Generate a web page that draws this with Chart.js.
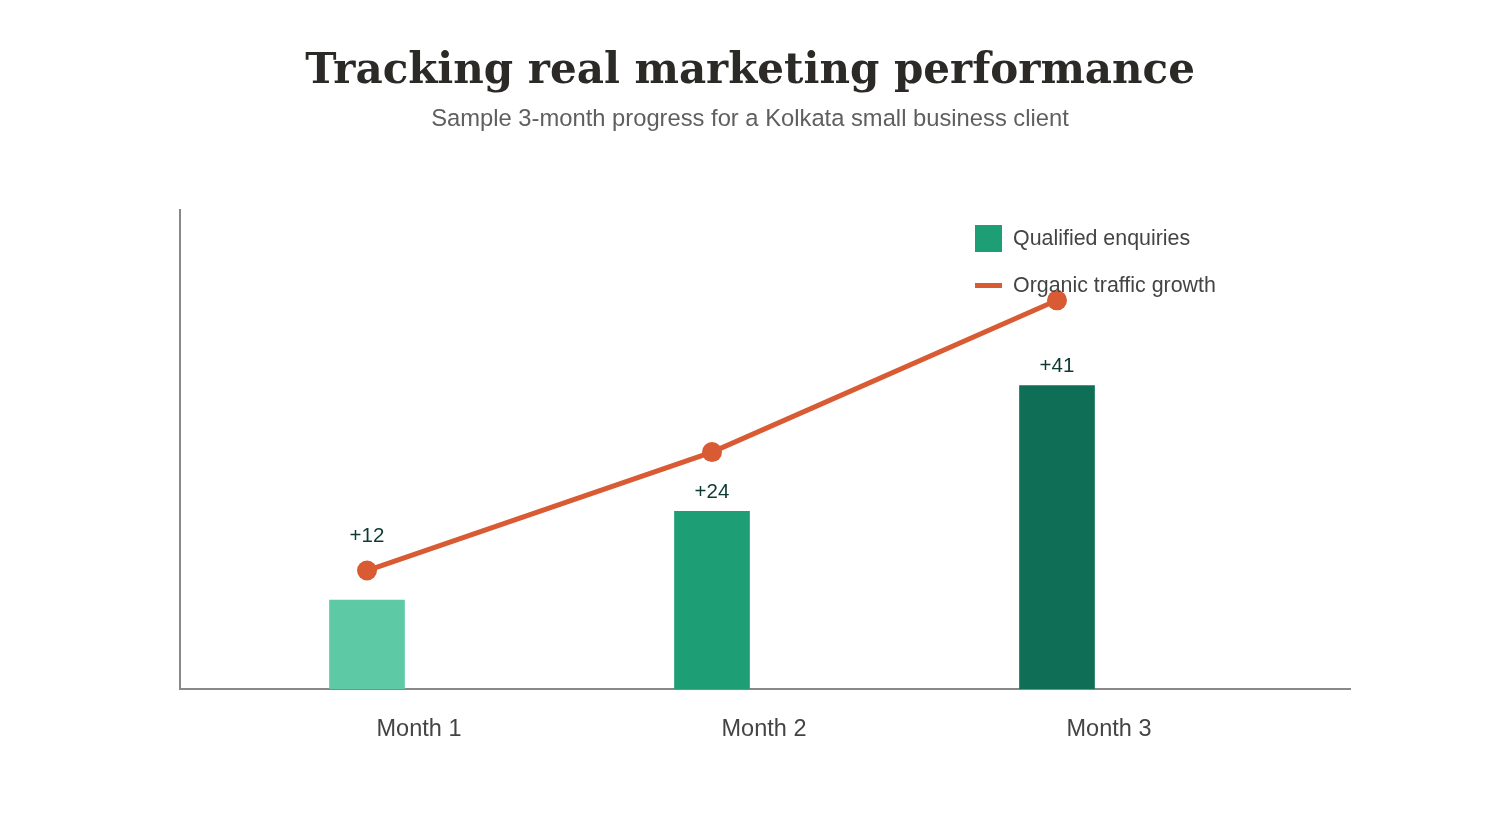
<!DOCTYPE html>
<html>
<head>
<meta charset="utf-8">
<script src="https://cdn.jsdelivr.net/npm/chart.js@4"></script>
<style>
  html, body { margin: 0; padding: 0; background: #ffffff; }
  #wrap { width: 1500px; height: 840px; }
</style>
</head>
<body>
<div id="wrap"><canvas id="c" width="1500" height="840"></canvas></div>
<script>
// ---- data ----
const categories = ["Month 1", "Month 2", "Month 3"];
const categoryPositions = [1, 2, 3];
const enquiries = [12, 24, 41];
const enquiryLabels = ["+12", "+24", "+41"];
const trafficGrowth = [16, 32, 52.5];
const barColors = ["#5dcaa5", "#1d9e75", "#0f6e56"];
const seriesNames = ["Qualified enquiries", "Organic traffic growth"];
const titleText = "Tracking real marketing performance";
const subtitleText = "Sample 3-month progress for a Kolkata small business client";

const ORANGE = "#d85b33";
const SANS = "'Liberation Sans', Arial, sans-serif";

const overlay = {
  id: "overlay",
  afterDatasetsDraw(chart) {
    const ctx = chart.ctx;
    const barMeta = chart.getDatasetMeta(0);
    const lineMeta = chart.getDatasetMeta(1);
    ctx.save();
    // value labels
    ctx.font = "20.5px " + SANS;
    ctx.fillStyle = "#0d3b31";
    ctx.textAlign = "center";
    ctx.textBaseline = "middle";
    barMeta.data.forEach((bar, i) => {
      const pt = lineMeta.data[i];
      let y = bar.y - 19;
      if (pt.y > bar.y - 45) y = pt.y - 34;
      ctx.fillText(enquiryLabels[i], bar.x, y);
    });
    // legend
    ctx.fillStyle = "#1d9e75";
    ctx.fillRect(975, 225, 27, 27);
    ctx.fillStyle = ORANGE;
    ctx.fillRect(975, 283, 27, 5);
    ctx.font = "21.4px " + SANS;
    ctx.fillStyle = "#444444";
    ctx.textAlign = "left";
    ctx.fillText(seriesNames[0], 1013, 239);
    ctx.fillText(seriesNames[1], 1013, 286);
    ctx.restore();
  },
  afterDraw(chart) {
    const ctx = chart.ctx;
    ctx.save();
    ctx.textAlign = "center";
    ctx.textBaseline = "alphabetic";
    ctx.fillStyle = "#2b2a26";
    ctx.font = "bold 42px 'DejaVu Serif', serif";
    ctx.fillText(titleText, 750, 83);
    ctx.fillStyle = "#5f5f5f";
    ctx.font = "23.75px " + SANS;
    ctx.fillText(subtitleText, 750, 126);
    ctx.restore();
  }
};

new Chart(document.getElementById("c"), {
  type: "bar",
  data: {
    datasets: [
      {
        type: "bar",
        label: seriesNames[0],
        data: categoryPositions.map((x, i) => ({ x: x, y: enquiries[i] })),
        backgroundColor: barColors,
        barThickness: 75,
        order: 2
      },
      {
        type: "line",
        label: seriesNames[1],
        data: categoryPositions.map((x, i) => ({ x: x, y: trafficGrowth[i] })),
        borderColor: ORANGE,
        backgroundColor: ORANGE,
        borderWidth: 5,
        pointRadius: 10,
        pointBackgroundColor: ORANGE,
        pointBorderWidth: 0,
        tension: 0,
        order: 1
      }
    ]
  },
  options: {
    responsive: false,
    animation: false,
    layout: { padding: { top: 210, right: 150, left: 0, bottom: 0 } },
    plugins: { legend: { display: false }, tooltip: { enabled: false }, title: { display: false } },
    scales: {
      x: {
        type: "linear",
        offset: false,
        min: 1 - 187 / 345,
        max: 1 - 187 / 345 + 1170 / 345,
        afterBuildTicks(scale) { scale.ticks = categoryPositions.map(v => ({ value: v })); },
        afterFit(scale) { scale.height = 151; },
        grid: { display: false, offset: false },
        border: { display: true, color: "#888888", width: 2 },
        ticks: {
          callback(value) { const i = categoryPositions.indexOf(value); return i >= 0 ? categories[i] : ""; },
          labelOffset: 52,
          padding: 18,
          maxRotation: 0,
          autoSkip: false,
          color: "#444444",
          font: { family: SANS, size: 23.5 }
        }
      },
      y: {
        min: 0,
        max: 64.7,
        afterFit(scale) { scale.width = 180; },
        grid: { display: false },
        border: { display: true, color: "#888888", width: 2 },
        ticks: { display: false }
      }
    }
  },
  plugins: [overlay]
});
</script>
</body>
</html>
